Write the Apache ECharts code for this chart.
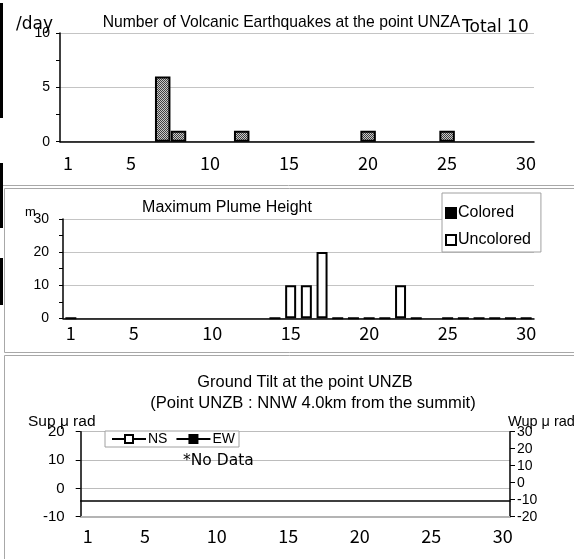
<!DOCTYPE html>
<html>
<head>
<meta charset="utf-8">
<script src="https://cdn.jsdelivr.net/npm/echarts@6/dist/echarts.min.js"></script>
<style>
  html, body { margin: 0; padding: 0; background: #fff; }
  #chart { width: 574px; height: 559px; }
</style>
</head>
<body>
<div id="chart"></div>
<script>
// days of the month
const days = ['1','2','3','4','5','6','7','8','9','10','11','12','13','14','15',
  '16','17','18','19','20','21','22','23','24','25','26','27','28','29','30']
const dayLabels = ['1', '5', '10', '15', '20', '25', '30']

// volcanic earthquakes per day
const quakeCounts = [0,0,0,0,0,0,6,1,0,0,0,1,0,0,0,0,0,0,0,1,0,0,0,0,1,0,0,0,0,0]

// maximum plume height (m), null = not observed
const plumeColored = []
const plumeUncolored = [0,null,null,null,null,null,null,null,null,null,null,null,null,0,10,
  10,20,0,0,0,0,10,0,null,0,0,0,0,0,0]

// ground tilt (no data this month)
const tiltNS = []
const tiltEW = []

const sans = '"Liberation Sans", Arial, sans-serif'
const wide = '"DejaVu Sans", sans-serif'
const digits = '"Noto Sans CJK JP", sans-serif'

// dotted grey fill used for the quake bars
const pat = document.createElement('canvas')
pat.width = 2
pat.height = 2
const pc = pat.getContext('2d')
pc.fillStyle = '#c8c8c8'
pc.fillRect(0, 0, 2, 2)
pc.fillStyle = '#404040'
pc.fillRect(0, 0, 1, 1)
pc.fillRect(1, 1, 1, 1)

const chart = echarts.init(document.getElementById('chart'))

const xLabel = (margin) => ({
  interval: (i, v) => dayLabels.includes(v),
  color: '#000',
  fontSize: 18,
  fontFamily: digits,
  margin: margin
})

const blackLine = { onZero: false, lineStyle: { color: '#000', width: 1.5 } }
const blackTick = (len) => ({ show: true, length: len, lineStyle: { color: '#000', width: 1 } })

const total = quakeCounts.reduce((a, b) => a + b, 0)

const text = (t, x, y, size, align, family) => ({
  type: 'text',
  z: 10,
  style: {
    text: t, x: x, y: y,
    textAlign: align || 'left',
    textVerticalAlign: 'middle',
    font: size + 'px ' + (family || sans),
    fill: '#000'
  }
})

const hline = (x1, x2, y) => ({
  type: 'line', z: 0,
  shape: { x1: x1, y1: y, x2: x2, y2: y },
  style: { stroke: '#a8a8a8', lineWidth: 1 }
})
const vline = (x, y1, y2) => ({
  type: 'line', z: 0,
  shape: { x1: x, y1: y1, x2: x, y2: y2 },
  style: { stroke: '#a8a8a8', lineWidth: 1 }
})
const strip = (y1, y2) => ({
  type: 'rect', z: 0,
  shape: { x: 0, y: y1, width: 3, height: y2 - y1 },
  style: { fill: '#000' }
})

const options = {
  animation: false,
  backgroundColor: '#fff',
  grid: [
    { left: 60, top: 33, width: 474, height: 108.7 },
    { left: 63, top: 219, width: 471, height: 99.3 },
    { left: 80.7, top: 431.7, width: 429.3, height: 85 }
  ],
  xAxis: [
    {
      type: 'category', gridIndex: 0, data: days,
      axisLine: blackLine,
      axisTick: { interval: 0, length: 5, lineStyle: { color: '#000' } },
      axisLabel: xLabel(12)
    },
    {
      type: 'category', gridIndex: 1, data: days,
      axisLine: blackLine,
      axisTick: { interval: 0, length: 5, lineStyle: { color: '#000' } },
      axisLabel: xLabel(6)
    },
    {
      type: 'category', gridIndex: 2, data: days, position: 'bottom', offset: -16,
      axisLine: blackLine,
      axisTick: { interval: 0, length: 5, lineStyle: { color: '#999' } },
      axisLabel: { show: false }
    },
    {
      type: 'category', gridIndex: 2, data: days, position: 'bottom',
      axisLine: { onZero: false, lineStyle: { color: '#b4b4b4', width: 2 } },
      axisTick: { show: false },
      axisLabel: xLabel(10)
    }
  ],
  yAxis: [
    {
      type: 'value', gridIndex: 0, min: 0, max: 10, interval: 5,
      axisLine: { show: true, lineStyle: { color: '#000', width: 1.5 } },
      axisTick: blackTick(4),
      minorTick: { show: true, splitNumber: 2, length: 4, lineStyle: { color: '#000' } },
      axisLabel: { color: '#000', fontSize: 14, fontFamily: sans, margin: 10 },
      splitLine: { lineStyle: { color: '#c4c4c4' } }
    },
    {
      type: 'value', gridIndex: 1, min: 0, max: 30, interval: 10,
      axisLine: { show: true, lineStyle: { color: '#000', width: 1.5 } },
      axisTick: blackTick(4),
      minorTick: { show: true, splitNumber: 2, length: 4, lineStyle: { color: '#000' } },
      axisLabel: { color: '#000', fontSize: 14, fontFamily: sans, margin: 14 },
      splitLine: { lineStyle: { color: '#c4c4c4' } }
    },
    {
      type: 'value', gridIndex: 2, min: -10, max: 20, interval: 10,
      axisLine: { show: true, lineStyle: { color: '#000', width: 1.5 } },
      axisTick: blackTick(5),
      axisLabel: { color: '#000', fontSize: 15, fontFamily: sans, margin: 16 },
      splitLine: { lineStyle: { color: '#bcbcbc' } }
    },
    {
      type: 'value', gridIndex: 2, position: 'right', min: -20, max: 30, interval: 10,
      axisLine: { show: true, lineStyle: { color: '#000', width: 1.5 } },
      axisTick: blackTick(5),
      axisLabel: { color: '#000', fontSize: 14, fontFamily: sans, margin: 7, padding: [4, 0, 0, 0] },
      splitLine: { show: false }
    }
  ],
  legend: [
    {
      data: ['Colored', 'Uncolored'],
      orient: 'vertical',
      left: 442, top: 193,
      padding: [12, 10, 4, 3],
      itemGap: 11,
      itemWidth: 10, itemHeight: 10,
      icon: 'rect',
      backgroundColor: '#fff',
      borderColor: '#a0a0a0', borderWidth: 1,
      textStyle: { color: '#000', fontSize: 16, fontFamily: sans, padding: [0, 0, 0, -3] }
    },
    {
      data: ['NS', 'EW'],
      orient: 'horizontal',
      left: 105, top: 431,
      padding: [1, 4, 1, 6],
      itemGap: 8,
      itemWidth: 34, itemHeight: 10,
      backgroundColor: '#fff',
      borderColor: '#a0a0a0', borderWidth: 1,
      textStyle: { color: '#000', fontSize: 14, fontFamily: sans, padding: [0, 0, 0, -3] }
    }
  ],
  series: [
    {
      name: 'Earthquakes', type: 'bar', xAxisIndex: 0, yAxisIndex: 0,
      data: quakeCounts.map((v) => (v === 0 ? null : v)),
      barCategoryGap: '2%',
      itemStyle: { color: { image: pat, repeat: 'repeat' }, borderColor: '#000', borderWidth: 2 }
    },
    {
      name: 'Colored', type: 'bar', xAxisIndex: 1, yAxisIndex: 1,
      data: plumeColored,
      barGap: '-100%', barCategoryGap: '30%',
      itemStyle: { color: '#000', borderColor: '#000', borderWidth: 1.5 }
    },
    {
      name: 'Uncolored', type: 'bar', xAxisIndex: 1, yAxisIndex: 1,
      data: plumeUncolored,
      barGap: '-100%', barCategoryGap: '30%',
      itemStyle: { color: '#fff', borderColor: '#000', borderWidth: 2 }
    },
    {
      name: 'NS', type: 'line', xAxisIndex: 2, yAxisIndex: 2,
      data: tiltNS,
      symbol: 'rect', symbolSize: 8,
      lineStyle: { color: '#000', width: 1.5 },
      itemStyle: { color: '#fff', borderColor: '#000', borderWidth: 1.5 }
    },
    {
      name: 'EW', type: 'line', xAxisIndex: 2, yAxisIndex: 3,
      data: tiltEW,
      symbol: 'rect', symbolSize: 8,
      lineStyle: { color: '#000', width: 1.5 },
      itemStyle: { color: '#000', borderColor: '#000', borderWidth: 1.5 }
    }
  ],
  graphic: [
    strip(3, 118), strip(163, 228), strip(258, 305),
    hline(3, 574, 185.5),
    hline(4.5, 574, 188.5), vline(4.5, 188.5, 352.5), hline(4.5, 574, 352.5),
    hline(4.5, 574, 355.5), vline(4.5, 355.5, 559),
    text('/day', 16, 25, 17, 'left', wide),
    text('Number of Volcanic Earthquakes at the point UNZA', 281.5, 23, 15.7, 'center'),
    text('Total ' + total, 462, 28, 17, 'left', wide),
    text('Maximum Plume Height', 227, 208, 16, 'center'),
    text('m', 25, 212, 13),
    text('Ground Tilt at the point UNZB', 305, 382, 16.4, 'center'),
    text('(Point UNZB : NNW 4.0km from the summit)', 313, 403, 16.6, 'center'),
    text('Sup μ rad', 28, 422, 15.5),
    text('Wup μ rad', 508, 422, 14.5),
    text('*No Data', 183, 461, 15.5, 'left', wide)
  ]
}

chart.setOption(options)
</script>
</body>
</html>
